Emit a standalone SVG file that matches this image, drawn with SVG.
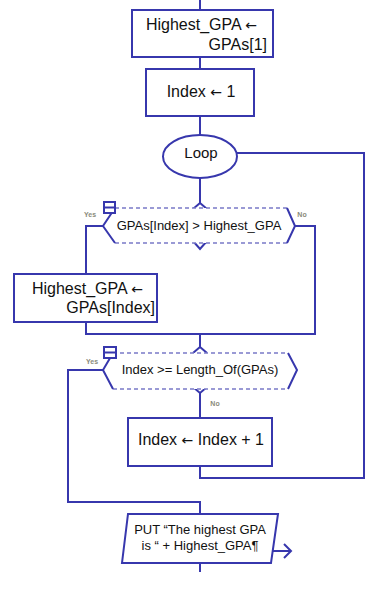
<svg xmlns="http://www.w3.org/2000/svg" width="366" height="599" viewBox="0 0 366 599">
<style>
.box{fill:#fff;stroke:#3737ad;stroke-width:2}
.side{fill:none;stroke:#3737ad;stroke-width:2}
.dash{fill:none;stroke:#7a7ac8;stroke-width:1.5;stroke-dasharray:4 3}
.ln{fill:none;stroke:#3737ad;stroke-width:2}
.t{font-family:"Liberation Sans",Arial,sans-serif;fill:#111}
.ar{font-family:"DejaVu Sans",sans-serif;font-size:14px}
.big{font-size:16px}
.mid{font-size:13px}
.lbl{font-family:"Liberation Sans",Arial,sans-serif;font-size:7px;fill:#8a8a7a;font-weight:bold}
.ico{fill:#fff;stroke:#3737ad;stroke-width:2}
</style>
<g id="connectors">
<path class="ln" d="M200 0 V10"/>
<path class="ln" d="M200 57 V69"/>
<path class="ln" d="M200 116 V135"/>
<path class="ln" d="M200 178 V203 M200 203 L193 209 M200 203 L207 209"/>
<path class="ln" d="M103 226 H86 V274"/>
<path class="ln" d="M86 322 V334 H315 V226 H295"/>
<path class="ln" d="M200 334 V347 M200 347 L193 353 M200 347 L207 353"/>
<path class="ln" d="M193 241 L200 249 L207 241"/>
<path class="ln" d="M193 387 L200 393 L207 387 M200 393 V418"/>
<path class="ln" d="M103 370 H68 V502 H200 V514"/>
<path class="ln" d="M200 466 V478 H364 V153 H237"/>
<path class="ln" d="M200 563 V572"/>
<path class="ln" d="M272 551 H291 M284 544 L291 551 L284 558"/>
</g>
<g id="assign-init">
<rect class="box" x="132" y="10" width="141" height="47"/>
<text class="t big" x="257" y="30" text-anchor="end">Highest_GPA <tspan class="ar">←</tspan></text>
<text class="t big" x="267" y="50" text-anchor="end">GPAs[1]</text>
</g>
<g id="index-init">
<rect class="box" x="146" y="69" width="108" height="47"/>
<text class="t big" x="201" y="97" text-anchor="middle">Index <tspan class="ar">←</tspan> 1</text>
</g>
<g id="loop">
<ellipse class="box" cx="200" cy="156.5" rx="37" ry="21.5"/>
<text class="t" font-size="15" x="201" y="158" text-anchor="middle">Loop</text>
</g>
<g id="decision-gpa">
<polygon points="115,208 287,208 295,226 287,243 115,243 103,226" fill="#fff" stroke="none"/>
<path class="dash" d="M115 208 H287 M115 243 H287"/>
<path class="side" d="M115 208 L103 226 L115 243 M287 208 L295 226 L287 243"/>
<rect class="ico" x="104" y="202" width="11" height="11"/>
<path class="side" d="M104 207.5 H115"/>
<text class="t mid" x="199" y="230" text-anchor="middle">GPAs[Index] &gt; Highest_GPA</text>
<text class="lbl" x="90" y="217" text-anchor="middle">Yes</text>
<text class="lbl" x="302" y="217" text-anchor="middle">No</text>
</g>
<g id="assign-highest">
<rect class="box" x="14" y="274" width="143" height="48"/>
<text class="t big" x="143" y="294" text-anchor="end">Highest_GPA <tspan class="ar">←</tspan></text>
<text class="t big" x="155" y="313" text-anchor="end">GPAs[Index]</text>
</g>
<g id="decision-end">
<polygon points="113,353 288,353 297,370 288,389 113,389 103,370" fill="#fff" stroke="none"/>
<path class="dash" d="M113 353 H288 M113 389 H288"/>
<path class="side" d="M113 353 L103 370 L113 389 M288 353 L297 370 L288 389"/>
<rect class="ico" x="104" y="347" width="12" height="11"/>
<path class="side" d="M104 352.5 H116"/>
<text class="t mid" x="200" y="374" text-anchor="middle">Index &gt;= Length_Of(GPAs)</text>
<text class="lbl" x="92" y="364" text-anchor="middle">Yes</text>
<text class="lbl" x="215" y="406" text-anchor="middle">No</text>
</g>
<g id="increment">
<rect class="box" x="128" y="418" width="144" height="48"/>
<text class="t big" x="201" y="445" text-anchor="middle">Index <tspan class="ar">←</tspan> Index + 1</text>
</g>
<g id="output">
<polygon class="box" points="128,514 278,514 271,563 122,563"/>
<text class="t mid" x="200" y="534" text-anchor="middle">PUT “The highest GPA</text>
<text class="t mid" x="200" y="550" text-anchor="middle">is “ + Highest_GPA¶</text>
</g>
</svg>
